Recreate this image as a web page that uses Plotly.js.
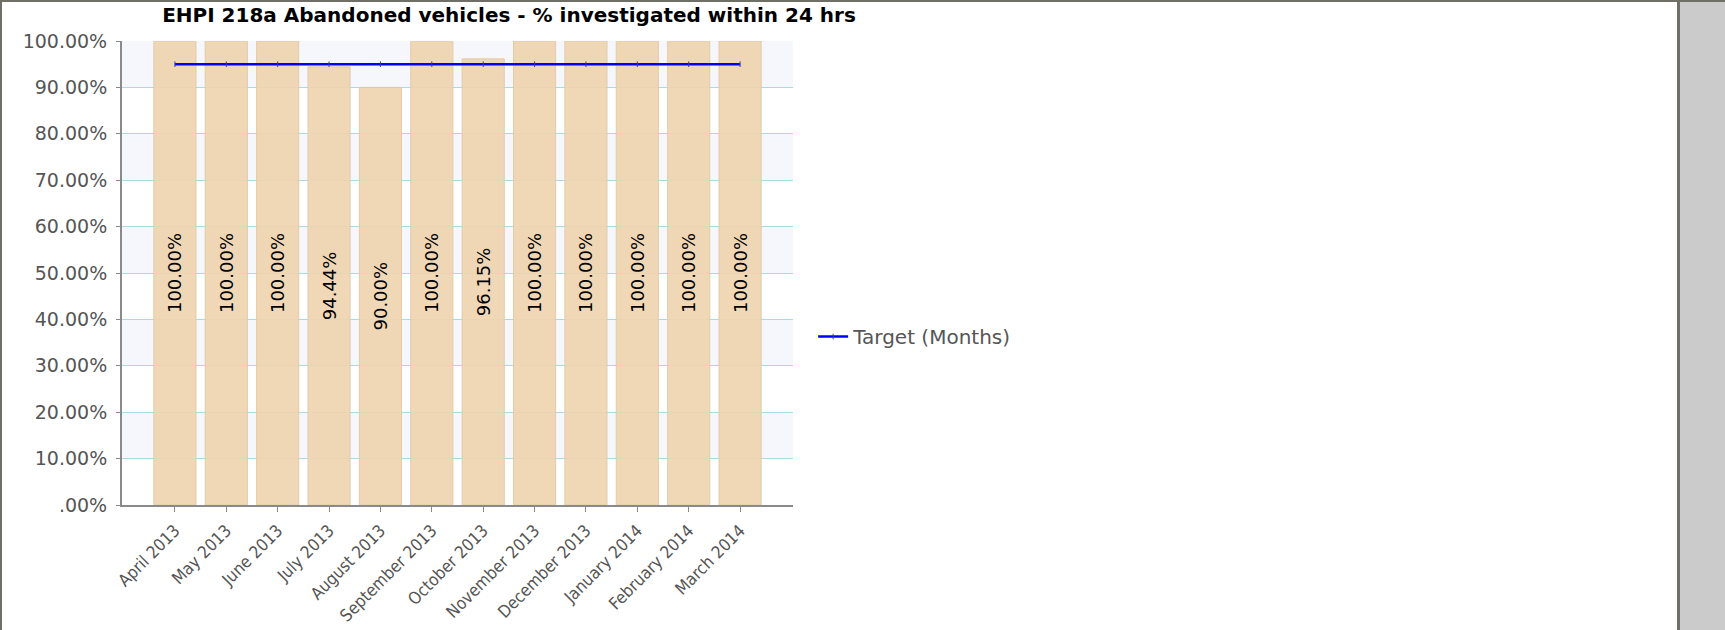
<!DOCTYPE html>
<html>
<head>
<meta charset="utf-8">
<script src="https://cdn.plot.ly/plotly-3.0.1.min.js"></script>
<style>
  html, body { margin: 0; padding: 0; background: #ffffff; }
  #frame {
    position: absolute; left: 0; top: 0; width: 1675px; height: 628px;
    border-left: 2px solid #6f6f68; border-top: 2px solid #6f6f68; background: #ffffff;
  }
  #side {
    position: absolute; left: 1677px; top: 0; width: 45px; height: 628px;
    border-left: 3px solid #6f6f68; border-top: 2px solid #6f6f68; background: #cbcbcb;
  }
  #chart { position: absolute; left: 0; top: 0; width: 1677px; height: 630px; }
</style>
</head>
<body>
<div id="frame"></div>
<div id="side"></div>
<div id="chart"></div>
<script>
const months = [
  "April 2013", "May 2013", "June 2013", "July 2013", "August 2013", "September 2013",
  "October 2013", "November 2013", "December 2013", "January 2014", "February 2014", "March 2014",
];
const investigated = [100, 100, 100, 94.44, 90, 100, 96.15, 100, 100, 100, 100, 100];
const target = [95, 95, 95, 95, 95, 95, 95, 95, 95, 95, 95, 95];
const yTickVals = [0, 10, 20, 30, 40, 50, 60, 70, 80, 90, 100];
const yTickText = [".00%", "10.00%", "20.00%", "30.00%", "40.00%", "50.00%",
  "60.00%", "70.00%", "80.00%", "90.00%", "100.00%"];

const FONT = "DejaVu Sans, Verdana, sans-serif";
const NARROW = "DejaVu Sans Condensed, DejaVu Sans, sans-serif";

// alternating light bands behind the grid (10-20, 30-40, ...)
const bands = [];
for (let i = 1; i < yTickVals.length; i += 2) {
  bands.push({
    type: "rect", xref: "paper", yref: "y", x0: 0, x1: 1,
    y0: yTickVals[i], y1: yTickVals[i + 1],
    fillcolor: "#f6f7fd", line: { width: 0 }, layer: "below",
  });
}

const traces = [
  {
    type: "bar",
    x: months,
    y: investigated,
    width: 0.82,
    showlegend: false,
    marker: { color: "#efd5b1", opacity: 0.92, line: { color: "#e2c7a2", width: 1 } },
    text: investigated.map((v) => v.toFixed(2) + "%"),
    textposition: "inside",
    insidetextanchor: "middle",
    textangle: -90,
    textfont: { family: FONT, size: 18, color: "#000000" },
    hoverinfo: "skip",
  },
  {
    type: "scatter",
    mode: "lines+markers",
    x: months,
    y: target,
    name: "Target (Months)",
    line: { color: "#0000ff", width: 2.5 },
    marker: { symbol: "line-ns", size: 4, color: "#3a3ab0", line: { color: "#3a3ab0", width: 1 } },
  },
];

const layout = {
  width: 1677,
  height: 630,
  paper_bgcolor: "rgba(0,0,0,0)",
  plot_bgcolor: "rgba(0,0,0,0)",
  margin: { l: 122, r: 884, t: 41, b: 125 },
  font: { family: FONT, color: "#555555" },
  title: {
    text: "<b>EHPI 218a Abandoned vehicles - % investigated within 24 hrs</b>",
    font: { family: FONT, size: 20, color: "#000000" },
    xref: "container", x: 509 / 1677, xanchor: "center",
    yref: "container", y: 1 - 15 / 630, yanchor: "middle",
  },
  xaxis: {
    type: "category",
    range: [-1.03, 12.03],
    tickangle: -45,
    tickfont: { family: NARROW, size: 17, color: "#555555" },
    ticks: "outside", ticklen: 5, tickcolor: "#888888",
    ticklabelstandoff: 2,
    showline: true, linecolor: "#8a8a8a", linewidth: 2,
    showgrid: false, zeroline: false,
  },
  yaxis: {
    range: [0, 100],
    tickvals: yTickVals,
    ticktext: yTickText,
    tickfont: { family: FONT, size: 19, color: "#555555" },
    ticks: "outside", ticklen: 4, tickcolor: "#888888",
    ticklabelstandoff: 5,
    showline: true, linecolor: "#8a8a8a", linewidth: 2,
    showgrid: true, gridcolor: "#a6dce4", gridwidth: 1,
    zeroline: false,
  },
  shapes: bands,
  showlegend: true,
  legend: {
    x: 1.03, xanchor: "left", y: 0.363, yanchor: "middle",
    font: { family: FONT, size: 20, color: "#555555" },
    bgcolor: "rgba(0,0,0,0)",
  },
  bargap: 0.18,
};

Plotly.newPlot("chart", traces, layout, { displayModeBar: false, staticPlot: true });
</script>
</body>
</html>
